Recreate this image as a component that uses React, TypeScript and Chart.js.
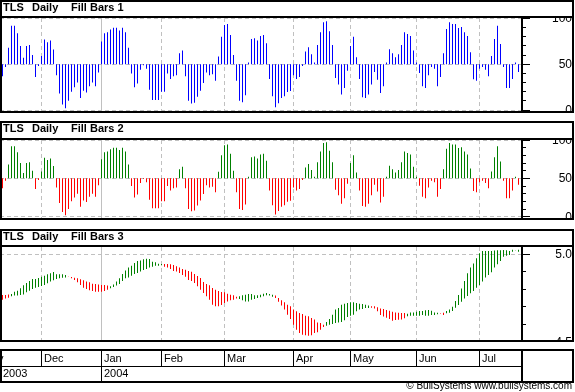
import React, { useEffect, useRef } from "react";
import { Chart, registerables } from "chart.js";

Chart.register(...registerables);

// ---------------- data ----------------
const fillValues: number[] = [
  37, 47, 68, 92, 92, 84, 70, 57, 70, 71, 60, 36, 48, 59, 77, 74, 76, 66, 38, 18,
  6, 2, 10, 20, 25, 30, 13, 21, 19, 26, 30, 26, 41, 75, 84, 85, 88, 90, 90, 87,
  90, 85, 68, 40, 25, 29, 44, 49, 45, 22, 11, 11, 11, 20, 20, 40, 34, 37, 38, 62,
  65, 37, 10, 7, 8, 14.5, 21, 29.5, 41, 38, 39, 32, 58.5, 80, 93, 94, 82, 60, 32, 10,
  8.6, 16, 52, 77.5, 78.5, 76, 81, 82, 73, 34, 15, 3, 7.5, 13, 15, 19.6, 20.7, 38, 34, 36,
  48, 64, 68.7, 61, 52, 71, 85, 96, 97, 86, 71, 35, 28, 17, 24, 43, 70, 80, 57.7, 34,
  14, 13, 17, 28, 41.5, 33, 18.5, 26, 52, 66.5, 62, 57.7, 61, 71, 85, 83, 81, 65, 52, 40.5,
  26, 24, 38, 47, 45, 26, 36, 62, 88.5, 96, 94, 94, 89.5, 90.6, 85, 81, 63, 33.5, 32, 45,
  47, 44, 37, 59, 77.5, 92, 72, 47, 24, 24, 34, 52, 41.5,
];

const fastLine: number[] = [
  4.741, 4.748, 4.752, 4.773, 4.786, 4.792, 4.806, 4.823, 4.836, 4.847,
  4.859, 4.859, 4.865, 4.872, 4.878, 4.886, 4.891, 4.899, 4.886, 4.886,
  4.886, 4.882, 4.874, 4.863, 4.853, 4.840, 4.825, 4.809, 4.802, 4.794,
  4.790, 4.786, 4.786, 4.786, 4.790, 4.798, 4.817, 4.828, 4.844, 4.863,
  4.887, 4.908, 4.924, 4.935, 4.950, 4.962, 4.965, 4.971, 4.975, 4.973,
  4.958, 4.954, 4.946, 4.944, 4.929, 4.924, 4.916, 4.905, 4.901, 4.893,
  4.882, 4.872, 4.853, 4.848, 4.836, 4.817, 4.798, 4.779, 4.760, 4.741,
  4.712, 4.703, 4.703, 4.710, 4.722, 4.731, 4.737, 4.741, 4.748, 4.760,
  4.766, 4.769, 4.773, 4.773, 4.766, 4.766, 4.769, 4.775, 4.779, 4.773,
  4.769, 4.750, 4.729, 4.707, 4.684, 4.655, 4.630, 4.598, 4.569, 4.550,
  4.541, 4.537, 4.535, 4.537, 4.550, 4.554, 4.569, 4.585, 4.613, 4.630,
  4.655, 4.684, 4.693, 4.712, 4.718, 4.722, 4.726, 4.726, 4.722, 4.718,
  4.716, 4.712, 4.707, 4.695, 4.691, 4.674, 4.653, 4.644, 4.638, 4.630,
  4.621, 4.625, 4.626, 4.628, 4.634, 4.661, 4.668, 4.668, 4.672, 4.676,
  4.676, 4.680, 4.682, 4.678, 4.668, 4.666, 4.660, 4.653, 4.676, 4.685,
  4.701, 4.733, 4.767, 4.805, 4.847, 4.891, 4.924, 4.948, 4.977, 5.006,
  5.019, 5.019, 5.019, 5.019, 5.021, 5.023, 5.023, 5.025, 5.023, 5.019,
  5.026, 5.022, 5.026,
];

const slowLine: number[] = [
  4.767, 4.767, 4.771, 4.760, 4.764, 4.764, 4.767, 4.771, 4.783, 4.792,
  4.802, 4.809, 4.813, 4.819, 4.825, 4.834, 4.844, 4.851, 4.859, 4.863,
  4.866, 4.868, 4.876, 4.870, 4.866, 4.863, 4.857, 4.851, 4.844, 4.840,
  4.832, 4.830, 4.828, 4.825, 4.825, 4.821, 4.806, 4.813, 4.821, 4.830,
  4.847, 4.863, 4.868, 4.878, 4.887, 4.893, 4.901, 4.910, 4.916, 4.924,
  4.929, 4.935, 4.935, 4.937, 4.944, 4.944, 4.943, 4.939, 4.931, 4.924,
  4.916, 4.912, 4.905, 4.900, 4.887, 4.876, 4.865, 4.842, 4.830, 4.823,
  4.808, 4.798, 4.790, 4.785, 4.783, 4.775, 4.769, 4.766, 4.758, 4.745,
  4.737, 4.731, 4.731, 4.741, 4.745, 4.750, 4.754, 4.760, 4.766, 4.764,
  4.758, 4.764, 4.750, 4.737, 4.726, 4.712, 4.703, 4.684, 4.674, 4.665,
  4.659, 4.649, 4.646, 4.636, 4.627, 4.611, 4.607, 4.598, 4.592, 4.598,
  4.602, 4.607, 4.611, 4.613, 4.623, 4.642, 4.649, 4.655, 4.674, 4.684,
  4.688, 4.693, 4.693, 4.703, 4.703, 4.697, 4.691, 4.687, 4.682, 4.678,
  4.672, 4.668, 4.666, 4.665, 4.665, 4.646, 4.649, 4.649, 4.649, 4.649,
  4.653, 4.649, 4.649, 4.653, 4.653, 4.657, 4.663, 4.666, 4.663, 4.666,
  4.676, 4.695, 4.710, 4.729, 4.748, 4.762, 4.777, 4.790, 4.809, 4.825,
  4.844, 4.867, 4.882, 4.897, 4.924, 4.943, 4.962, 4.986, 4.992, 4.996,
  5.015, 5.020, 5.015,
];

const monthLabels: string[] = ["Nov", "Dec", "Jan", "Feb", "Mar", "Apr", "May", "Jun", "Jul"];
const monthStarts: number[] = [-7, 13, 33, 53, 74, 97, 116, 138, 159];
const yearLabels: string[] = ["2003", "2004"];
const yearStarts: number[] = [-230, 33];

const oscLabelTicks: number[] = [0, 50, 100];
const oscMinorTicks: number[] = [10, 20, 30, 40, 60, 70, 80, 90];
const priceLabelTicks: number[] = [4.5, 5.0];
const priceMinorTicks: number[] = [4.6, 4.7, 4.8, 4.9];

const titleParts = ["TLS", "Daily"];
const panelNames = ["Fill Bars 1", "Fill Bars 2", "Fill Bars 3"];

// ---------------- layout ----------------
const W = 574;
const AXIS_W = 53; // right axis strip: plot area ends at x=521
const X_MIN = -2.5 / 3;
const X_MAX = X_MIN + (W - AXIS_W) / 3;
const FONT = "'Liberation Sans', Arial, Helvetica, sans-serif";
const GRID = "#c0c0c0";
const BLUE = "#0000ff";
const GREEN = "#008000";
const RED = "#ff0000";

Chart.defaults.font.family = FONT;

type PanelCfg = {
  hGrid: number[];
  labels: number[];
  minor: number[];
  major: number[];
  fmt: (v: number) => string;
};

function panelPlugin(cfg: PanelCfg) {
  return {
    id: "panelDecor",
    beforeDatasetsDraw(chart: any) {
      const { ctx, chartArea: a, scales } = chart;
      const x = scales.x;
      const y = scales.y;
      ctx.save();
      ctx.beginPath();
      ctx.rect(a.left, a.top, a.right - a.left, a.bottom - a.top);
      ctx.clip();
      ctx.lineWidth = 1;
      ctx.strokeStyle = GRID;
      ctx.setLineDash([4, 3]);
      for (const v of cfg.hGrid) {
        const py = Math.floor(y.getPixelForValue(v)) + 0.5;
        ctx.beginPath();
        ctx.moveTo(a.left, py);
        ctx.lineTo(a.right, py);
        ctx.stroke();
      }
      for (const s of monthStarts) {
        const px = Math.floor(x.getPixelForValue(s)) + 0.5;
        ctx.setLineDash(yearStarts.includes(s) ? [] : [4, 3]);
        ctx.beginPath();
        ctx.moveTo(px, a.top);
        ctx.lineTo(px, a.bottom);
        ctx.stroke();
      }
      ctx.restore();
    },
    afterDraw(chart: any) {
      const { ctx, chartArea: a, scales } = chart;
      const y = scales.y;
      const ax = a.right;
      ctx.save();
      ctx.fillStyle = "#000";
      ctx.fillRect(ax, 0, 2, chart.height);
      for (const v of cfg.minor) {
        ctx.fillRect(ax + 2, Math.floor(y.getPixelForValue(v)), 3, 1);
      }
      for (const v of cfg.major) {
        ctx.fillRect(ax + 2, Math.floor(y.getPixelForValue(v)), 7, 1);
      }
      ctx.font = `12px ${FONT}`;
      ctx.textAlign = "right";
      ctx.textBaseline = "middle";
      for (const v of cfg.labels) {
        ctx.fillText(cfg.fmt(v), W - 2, y.getPixelForValue(v) + 0.5);
      }
      ctx.restore();
    },
  };
}

function panelConfig(datasets: any[], yMin: number, yMax: number, cfg: PanelCfg): any {
  return {
    type: "bar",
    data: { datasets },
    plugins: [panelPlugin(cfg)],
    options: {
      animation: false,
      responsive: false,
      devicePixelRatio: 1,
      events: [],
      layout: { padding: { left: 0, right: AXIS_W, top: 0, bottom: 0 }, autoPadding: false },
      plugins: { legend: { display: false }, tooltip: { enabled: false } },
      scales: {
        x: { type: "linear", min: X_MIN, max: X_MAX, offset: false, display: false },
        y: { type: "linear", min: yMin, max: yMax, display: false },
      },
    },
  };
}

function barDataset(points: { x: number; y: [number, number] }[], color: (i: number) => string) {
  return {
    data: points,
    backgroundColor: (c: any) => color(c.dataIndex),
    borderWidth: 0,
    barThickness: 1,
    inflateAmount: 0,
    grouped: false,
  };
}

const oscCfg: PanelCfg = {
  hGrid: [0, 50, 100],
  labels: oscLabelTicks,
  minor: oscMinorTicks,
  major: oscLabelTicks,
  fmt: (v) => String(Math.round(v)),
};

const priceCfg: PanelCfg = {
  hGrid: [4.5, 5.0],
  labels: priceLabelTicks,
  minor: priceMinorTicks,
  major: priceLabelTicks,
  fmt: (v) => v.toFixed(1),
};

const oscPoints = () => fillValues.map((v, i) => ({ x: i, y: [50, v] as [number, number] }));

const config1 = () => panelConfig([barDataset(oscPoints(), () => BLUE)], -1.09, 100.55, oscCfg);
const config2 = () =>
  panelConfig(
    [barDataset(oscPoints(), (i) => (fillValues[i] >= 50 ? GREEN : RED))],
    -1.7,
    100,
    oscCfg
  );
const config3 = () =>
  panelConfig(
    [
      barDataset(
        fastLine.map((f, i) => ({ x: i, y: [slowLine[i], f] as [number, number] })),
        (i) => (fastLine[i] >= slowLine[i] ? GREEN : RED)
      ),
    ],
    4.5103,
    5.0417,
    priceCfg
  );

const axisPlugin = {
  id: "timeAxis",
  afterDraw(chart: any) {
    const { ctx, chartArea: a, scales } = chart;
    const x = scales.x;
    ctx.save();
    ctx.beginPath();
    ctx.rect(0, 0, a.right, chart.height);
    ctx.clip();
    ctx.fillStyle = "#000";
    ctx.textBaseline = "alphabetic";
    ctx.textAlign = "left";
    ctx.font = `11px ${FONT}`;
    monthStarts.forEach((s, k) => {
      const px = Math.floor(x.getPixelForValue(s));
      const isYear = yearStarts.includes(s);
      ctx.fillRect(px, 2, 1, isYear ? 30 : 15);
      ctx.fillText(monthLabels[k], px + 3, 13);
    });
    yearStarts.forEach((s, k) => {
      const px = Math.floor(x.getPixelForValue(s));
      ctx.fillText(yearLabels[k], Math.max(px + 3, 3), 28);
    });
    ctx.restore();
  },
};

const axisConfig = (): any => ({
  type: "scatter",
  data: { datasets: [] },
  plugins: [axisPlugin],
  options: {
    animation: false,
    responsive: false,
    devicePixelRatio: 1,
    events: [],
    layout: { padding: { left: 0, right: AXIS_W, top: 0, bottom: 0 }, autoPadding: false },
    plugins: { legend: { display: false }, tooltip: { enabled: false } },
    scales: {
      x: { type: "linear", min: X_MIN, max: X_MAX, offset: false, display: false },
      y: { display: false },
    },
  },
});

function ChartCanvas({ top, height, make }: { top: number; height: number; make: () => any }) {
  const ref = useRef<HTMLCanvasElement | null>(null);
  useEffect(() => {
    const chart = new Chart(ref.current as HTMLCanvasElement, make());
    return () => chart.destroy();
  }, []);
  return (
    <canvas
      ref={ref}
      width={W}
      height={height}
      style={{ position: "absolute", left: 0, top, width: W, height }}
    />
  );
}

const box = (top: number, height: number): any => ({
  position: "absolute",
  left: 0,
  top,
  width: W,
  height,
  border: "2px solid #000",
  boxSizing: "border-box",
  pointerEvents: "none",
  zIndex: 2,
});

const rect = (top: number, left: number, width: number, h: number): any => ({
  position: "absolute",
  left,
  top,
  width,
  height: h,
  background: "#000",
  zIndex: 2,
});

function Title({ top, name }: { top: number; name: string }) {
  const st: any = {
    position: "absolute",
    top: top + 1,
    height: 14,
    lineHeight: "14px",
    font: `bold 11px ${FONT}`,
    color: "#000",
    whiteSpace: "nowrap",
    zIndex: 3,
  };
  return (
    <>
      <div style={{ ...st, left: 3 }}>{titleParts[0]}</div>
      <div style={{ ...st, left: 32 }}>{titleParts[1]}</div>
      <div style={{ ...st, left: 71 }}>{name}</div>
    </>
  );
}

export default function App() {
  const panels = [
    { top: 0, h: 113, titleLine: 16, plotTop: 18, plotH: 93, make: config1 },
    { top: 121, h: 99, titleLine: 138, plotTop: 140, plotH: 78, make: config2 },
    { top: 229, h: 113, titleLine: 245, plotTop: 247, plotH: 93, make: config3 },
  ];
  return (
    <div
      style={{
        position: "fixed",
        left: 0,
        top: 0,
        width: 575,
        height: 392,
        background: "#fff",
        overflow: "hidden",
      }}
    >
      {panels.map((p, k) => (
        <React.Fragment key={k}>
          <ChartCanvas top={p.plotTop} height={p.plotH} make={p.make} />
          <div style={box(p.top, p.h)} />
          <div style={rect(p.titleLine, 0, W, 2)} />
          <Title top={p.top} name={panelNames[k]} />
        </React.Fragment>
      ))}
      <ChartCanvas top={349} height={34} make={axisConfig} />
      <div style={box(349, 34)} />
      <div style={rect(366, 0, W - AXIS_W, 1)} />
      <div style={rect(349, W - AXIS_W, 2, 34)} />
      <div
        style={{
          position: "absolute",
          right: 3,
          top: 380,
          height: 12,
          lineHeight: "12px",
          font: `10px ${FONT}`,
          color: "#000",
          whiteSpace: "nowrap",
        }}
      >
        © BullSystems www.bullsystems.com
      </div>
    </div>
  );
}
